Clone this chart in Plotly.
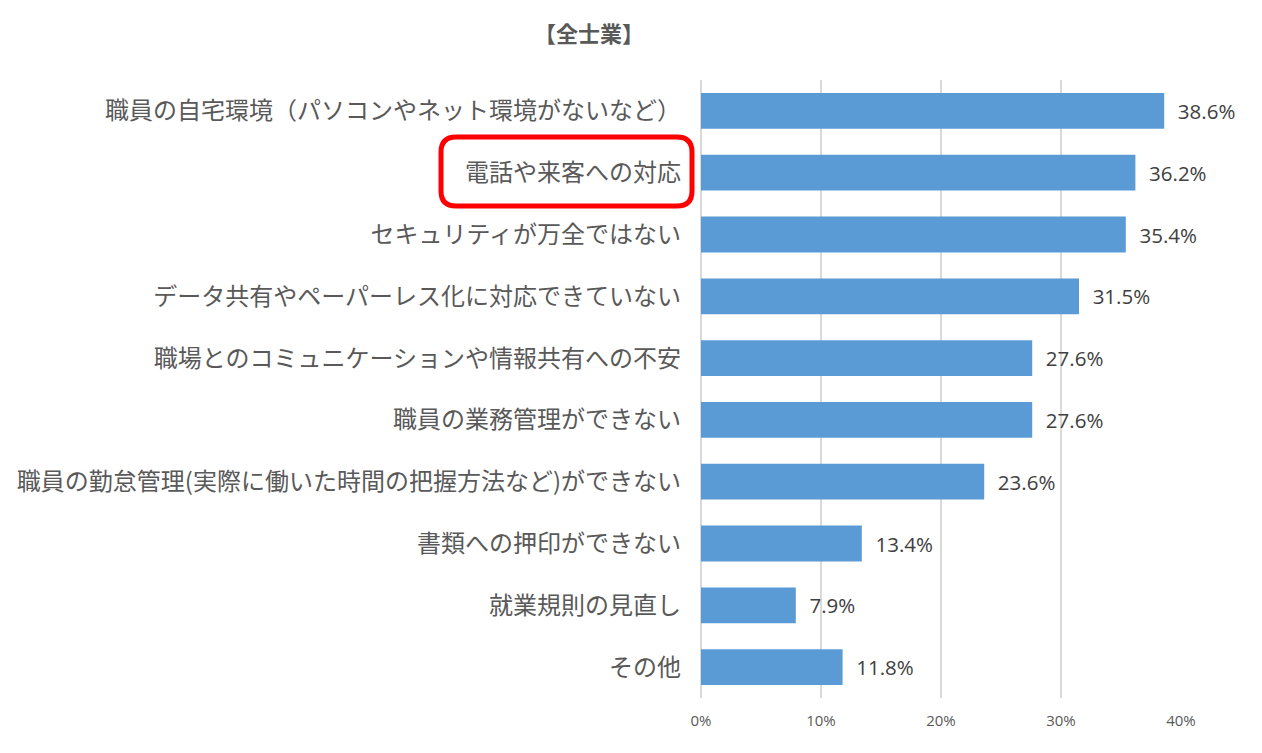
import plotly.graph_objects as go

categories = [
    "職員の自宅環境（パソコンやネット環境がないなど）",
    "電話や来客への対応",
    "セキュリティが万全ではない",
    "データ共有やペーパーレス化に対応できていない",
    "職場とのコミュニケーションや情報共有への不安",
    "職員の業務管理ができない",
    "職員の勤怠管理(実際に働いた時間の把握方法など)ができない",
    "書類への押印ができない",
    "就業規則の見直し",
    "その他",
]
values = [38.6, 36.2, 35.4, 31.5, 27.6, 27.6, 23.6, 13.4, 7.9, 11.8]
tick_vals = [0, 10, 20, 30, 40]
tick_text = ["0%", "10%", "20%", "30%", "40%"]
title_text = "【全士業】"

W, H = 1262, 753
L, R, T, B = 701, 81, 80, 55
pw, ph = W - L - R, H - T - B

fig = go.Figure(go.Bar(
    x=values, y=categories, orientation="h",
    marker=dict(color="#5B9BD5", line=dict(width=0)),
    text=[f"  {v:.1f}%" for v in values],
    textposition="outside", cliponaxis=False,
    textfont=dict(family="Open Sans, Noto Sans CJK JP", size=20.5, color="#404040"),
    hoverinfo="skip",
))

# red rounded rectangle around second label (pixel -> paper)
def px(xp):
    return (xp - L) / pw

def py(yp):
    return (H - B - yp) / ph

x0, x1, y0, y1, r = 441, 692, 137, 206, 15
path = (
    f"M {px(x0 + r)} {py(y0)} L {px(x1 - r)} {py(y0)} "
    f"Q {px(x1)} {py(y0)} {px(x1)} {py(y0 + r)} "
    f"L {px(x1)} {py(y1 - r)} Q {px(x1)} {py(y1)} {px(x1 - r)} {py(y1)} "
    f"L {px(x0 + r)} {py(y1)} Q {px(x0)} {py(y1)} {px(x0)} {py(y1 - r)} "
    f"L {px(x0)} {py(y0 + r)} Q {px(x0)} {py(y0)} {px(x0 + r)} {py(y0)} Z"
)
fig.add_shape(type="path", path=path, xref="paper", yref="paper",
              line=dict(color="#FF0000", width=5), fillcolor="rgba(0,0,0,0)")

fig.add_annotation(text=f"<b>{title_text}</b>", xref="paper", yref="paper",
                   x=px(589), y=py(32), xanchor="center", yanchor="middle",
                   showarrow=False,
                   font=dict(family="Noto Sans CJK JP", size=22, color="#595959"))

fig.update_layout(
    width=W, height=H,
    margin=dict(l=L, r=R, t=T, b=B, autoexpand=False),
    plot_bgcolor="white", paper_bgcolor="white",
    showlegend=False, bargap=0.42,
    xaxis=dict(range=[0, 40], tickvals=tick_vals, ticktext=tick_text,
               showgrid=True, gridcolor="#D9D9D9", gridwidth=2,
               zeroline=True, zerolinecolor="#D9D9D9", zerolinewidth=2,
               showline=False, ticks="",
               tickfont=dict(family="Open Sans, Noto Sans CJK JP", size=15, color="#595959"),
               automargin=False, ticklabelstandoff=12),
    yaxis=dict(autorange="reversed", showgrid=False, zeroline=False, showline=False,
               ticks="", tickfont=dict(family="Noto Sans CJK JP", size=24, color="#595959"),
               automargin=False, ticklabelstandoff=19),
)

fig.write_html("out.html")
